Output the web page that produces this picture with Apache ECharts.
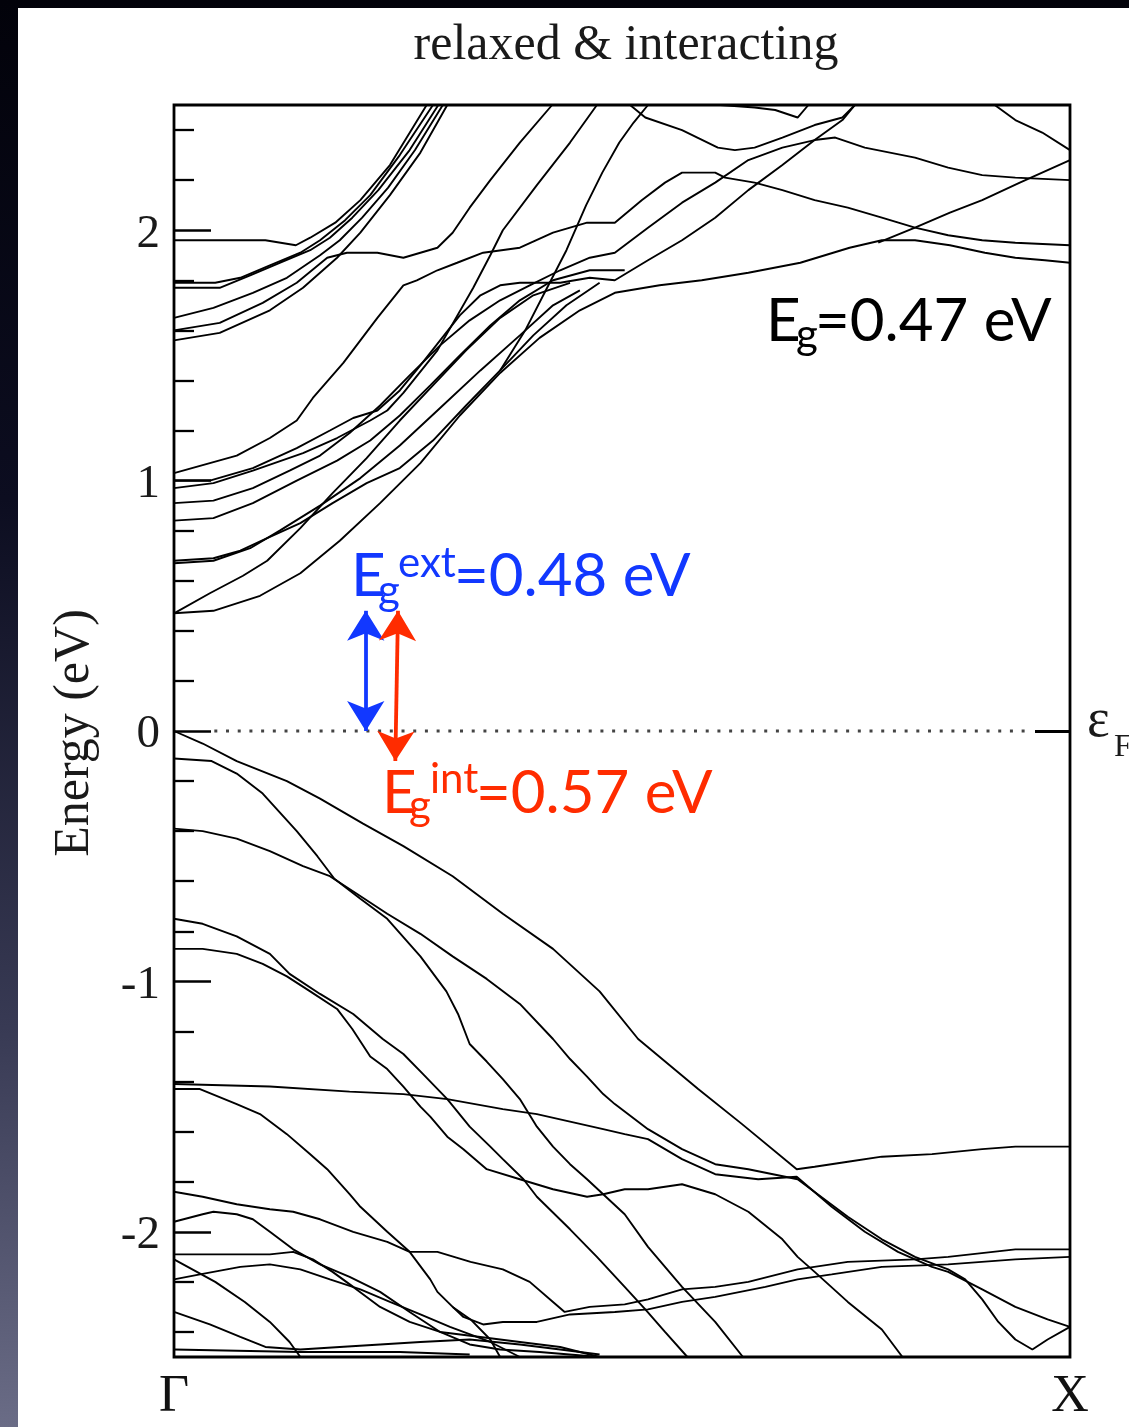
<!DOCTYPE html>
<html>
<head>
<meta charset="utf-8">
<script src="https://cdn.jsdelivr.net/npm/echarts@6/dist/echarts.min.js"></script>
<style>
  html, body { margin: 0; padding: 0; width: 1129px; height: 1427px; overflow: hidden; }
  body { background: linear-gradient(180deg, #02020a 0%, #0c0d20 35%, #383a54 72%, #6a6c86 100%); }
  #panel { position: absolute; left: 18px; top: 8px; right: 0; bottom: 0; background: #fff; }
  #chart { position: absolute; left: 0; top: 0; width: 1129px; height: 1427px; }
</style>
</head>
<body>
<div id="panel"></div>
<div id="chart"></div>
<script>
// k: fraction of the path Gamma -> X, E: energy in eV (relative to the Fermi level)
const kLabels = ['Γ', 'X'];
const eMajor = [-2, -1, 0, 1, 2];
const eMinor = [-2.4, -2.2, -1.8, -1.6, -1.4, -1.2, -0.8, -0.6, -0.4, -0.2,
                0.2, 0.4, 0.6, 0.8, 1.2, 1.4, 1.6, 1.8, 2.2, 2.4];
const fermiLine = [[0.045, 0], [0.958, 0]];

// --- conduction bands ---
const cond1 = [[0,1.96],[.102,1.96],[.136,1.94],[.152,1.97],[.180,2.03],[.208,2.12],[.241,2.26],[.282,2.50]];
const cond2 = [[0,1.79],[.046,1.79],[.074,1.81],[.107,1.86],[.141,1.91],[.163,1.96],[.191,2.04],[.219,2.14],[.252,2.30],[.289,2.50]];
const cond3 = [[0,1.77],[.051,1.77],[.085,1.82],[.118,1.87],[.152,1.92],[.174,1.97],[.199,2.05],[.228,2.16],[.263,2.32],[.295,2.50]];
const cond4 = [[0,1.65],[.044,1.69],[.088,1.75],[.126,1.81],[.163,1.90],[.185,1.96],[.210,2.05],[.239,2.17],[.269,2.32],[.300,2.50]];
const cond5 = [[0,1.60],[.051,1.63],[.099,1.71],[.137,1.79],[.171,1.89],[.193,1.91],[.227,1.91],[.256,1.89],[.275,1.91],[.294,1.93],[.311,1.99],[.330,2.09],[.353,2.20],[.386,2.35],[.422,2.50]];
const cond6 = [[0,1.56],[.051,1.59],[.107,1.68],[.144,1.77],[.182,1.89],[.208,1.99],[.241,2.14],[.275,2.31],[.305,2.50]];
const cond7 = [[0,1.03],[.070,1.10],[.107,1.17],[.137,1.24],[.155,1.33],[.189,1.47],[.208,1.56],[.227,1.65],[.256,1.78],[.271,1.80],[.294,1.84],[.316,1.87],[.345,1.91],[.386,1.93],[.423,1.99],[.461,2.03],[.492,2.03],[.522,2.12],[.548,2.19],[.567,2.23],[.604,2.23],[.615,2.21],[.648,2.19],[.679,2.16],[.715,2.12],[.752,2.09],[.790,2.05],[.827,2.01],[.864,1.98],[.902,1.96],[.939,1.95],[1,1.94]];
const cond8 = [[0,1.00],[.040,1.00],[.088,1.05],[.137,1.13],[.174,1.20],[.200,1.25],[.227,1.28],[.252,1.36],[.275,1.46],[.297,1.56],[.319,1.66],[.342,1.74],[.364,1.78],[.386,1.79],[.431,1.79],[.464,1.81],[.492,1.80],[.529,1.88],[.567,1.96],[.604,2.05],[.641,2.16],[.679,2.26],[.715,2.36],[.746,2.44],[.760,2.50]];
const cond9 = [[0,.97],[.044,.99],[.088,1.04],[.144,1.11],[.182,1.17],[.219,1.24],[.238,1.28],[.256,1.35],[.294,1.52],[.334,1.77],[.353,1.90],[.367,2.00],[.405,2.18],[.442,2.35],[.472,2.50]];
const cond10 = [[0,.91],[.044,.92],[.088,.97],[.129,1.04],[.163,1.10],[.196,1.19],[.230,1.30],[.263,1.42],[.297,1.54],[.330,1.64],[.364,1.72],[.397,1.78],[.431,1.84],[.464,1.89],[.492,1.91],[.529,2.01],[.567,2.11],[.604,2.19],[.641,2.28],[.679,2.33],[.715,2.36],[.738,2.37],[.771,2.33],[.827,2.29],[.864,2.25],[.902,2.22],[.939,2.21],[1,2.20]];
const cond11 = [[0,.84],[.044,.85],[.088,.91],[.137,1.00],[.182,1.08],[.219,1.16],[.252,1.26],[.286,1.38],[.319,1.50],[.353,1.62],[.386,1.72],[.423,1.80],[.464,1.84],[.503,1.84]];
const cond12 = [[0,.68],[.044,.69],[.074,.72],[.104,.77],[.141,.83],[.177,.91],[.215,.99],[.252,1.05],[.289,1.16],[.326,1.30],[.364,1.44],[.401,1.58],[.438,1.70],[.475,1.79]];
const cond13 = [[0,.67],[.044,.68],[.085,.73],[.118,.80],[.163,.90],[.208,1.01],[.252,1.14],[.297,1.29],[.342,1.44],[.386,1.58],[.423,1.70],[.453,1.76]];
const cond14 = [[0,.47],[.040,.55],[.077,.62],[.104,.68],[.141,.81],[.177,.95],[.215,1.09],[.252,1.24],[.289,1.38],[.326,1.52],[.364,1.65],[.401,1.74],[.442,1.79]];
const cond15 = [[0,.47],[.044,.48],[.096,.54],[.141,.63],[.185,.76],[.230,.91],[.275,1.07],[.319,1.26],[.364,1.43],[.408,1.57],[.453,1.68],[.492,1.75],[.542,1.78],[.589,1.80],[.641,1.83],[.699,1.87],[.754,1.93],[.790,1.96],[.827,1.96],[.866,1.94],[.905,1.91],[.939,1.89],[.972,1.88],[1,1.87]];
const cond16 = [[.786,1.95],[.827,2.01],[.866,2.07],[.902,2.12],[.944,2.19],[1,2.28]];
const cond17 = [[.509,2.50],[.526,2.45],[.567,2.40],[.607,2.33],[.626,2.32],[.648,2.33],[.679,2.37],[.715,2.42],[.746,2.45],[.760,2.50]];
const cond18 = [[.610,2.50],[.648,2.49],[.671,2.48],[.696,2.45],[.708,2.50]];
const cond19 = [[.916,2.50],[.939,2.44],[.969,2.39],[1,2.32]];
const cond20 = [[.364,1.44],[.392,1.60],[.415,1.76],[.438,1.92],[.460,2.10],[.478,2.23],[.497,2.35],[.513,2.43],[.529,2.50]];

// --- valence bands ---
const val1 = [[0,0],[.032,-.05],[.070,-.12],[.126,-.20],[.163,-.27],[.211,-.37],[.256,-.46],[.311,-.58],[.367,-.73],[.423,-.87],[.475,-1.04],[.518,-1.23],[.585,-1.43],[.634,-1.57],[.695,-1.75],[.715,-1.74],[.752,-1.72],[.790,-1.70],[.846,-1.69],[.902,-1.67],[.939,-1.66],[1,-1.66]];
const val2 = [[0,-.11],[.042,-.12],[.070,-.17],[.099,-.25],[.137,-.40],[.160,-.50],[.179,-.59],[.208,-.67],[.238,-.75],[.275,-.90],[.304,-1.04],[.317,-1.13],[.330,-1.25],[.349,-1.32],[.367,-1.39],[.386,-1.47],[.405,-1.58],[.423,-1.66],[.442,-1.73],[.461,-1.79],[.479,-1.85],[.503,-1.93],[.529,-2.06],[.567,-2.22],[.604,-2.36],[.635,-2.50]];
const val3 = [[0,-.39],[.032,-.40],[.070,-.43],[.107,-.48],[.144,-.54],[.174,-.58],[.204,-.65],[.238,-.73],[.275,-.81],[.311,-.90],[.349,-.99],[.386,-1.09],[.423,-1.23],[.442,-1.31],[.461,-1.38],[.479,-1.45],[.492,-1.49],[.529,-1.59],[.567,-1.67],[.604,-1.73],[.641,-1.75],[.696,-1.79],[.752,-1.94],[.790,-2.03],[.827,-2.10],[.864,-2.15],[.883,-2.19],[.902,-2.27],[.920,-2.36],[.939,-2.43],[.958,-2.47],[.975,-2.43],[1,-2.38]];
const val4 = [[0,-.75],[.032,-.77],[.070,-.82],[.107,-.89],[.129,-.97],[.163,-1.05],[.200,-1.13],[.233,-1.23],[.256,-1.29],[.278,-1.37],[.305,-1.47],[.330,-1.58],[.353,-1.66],[.367,-1.71],[.390,-1.79],[.405,-1.86],[.442,-1.99],[.472,-2.10],[.503,-2.22],[.526,-2.31],[.548,-2.40],[.573,-2.50]];
const val5 = [[0,-.87],[.032,-.87],[.070,-.89],[.099,-.93],[.126,-.98],[.152,-1.04],[.182,-1.11],[.199,-1.19],[.219,-1.30],[.238,-1.35],[.256,-1.42],[.275,-1.50],[.286,-1.54],[.305,-1.62],[.323,-1.67],[.349,-1.75],[.386,-1.79],[.423,-1.83],[.461,-1.86],[.479,-1.85],[.503,-1.83],[.529,-1.83],[.567,-1.81],[.604,-1.85],[.641,-1.92],[.679,-2.03],[.696,-2.10],[.715,-2.16],[.752,-2.28],[.790,-2.39],[.813,-2.50]];
const val6 = [[0,-1.41],[.107,-1.42],[.196,-1.44],[.256,-1.45],[.305,-1.47],[.367,-1.51],[.405,-1.53],[.442,-1.56],[.479,-1.59],[.503,-1.61],[.529,-1.63],[.548,-1.67],[.567,-1.71],[.604,-1.77],[.652,-1.79],[.695,-1.78],[.734,-1.90],[.771,-2.00],[.808,-2.08],[.846,-2.14],[.864,-2.16],[.902,-2.23],[.939,-2.30],[.975,-2.35],[1,-2.38]];
const val7 = [[0,-1.43],[.029,-1.43],[.070,-1.49],[.096,-1.53],[.126,-1.61],[.152,-1.69],[.171,-1.75],[.196,-1.85],[.208,-1.90],[.238,-2.00],[.263,-2.08],[.286,-2.19],[.294,-2.24],[.311,-2.30],[.323,-2.34],[.345,-2.37],[.367,-2.36],[.405,-2.36],[.442,-2.33],[.492,-2.32],[.529,-2.31],[.567,-2.28],[.604,-2.26],[.660,-2.22],[.696,-2.19],[.734,-2.17],[.790,-2.14],[.864,-2.13],[.939,-2.11],[1,-2.10]];
const val8 = [[.311,-2.30],[.331,-2.35],[.353,-2.43],[.364,-2.50]];
const val9 = [[0,-1.84],[.032,-1.86],[.070,-1.89],[.107,-1.91],[.133,-1.92],[.163,-1.95],[.200,-2.00],[.238,-2.04],[.263,-2.08],[.294,-2.08],[.331,-2.12],[.367,-2.15],[.397,-2.20],[.423,-2.28],[.436,-2.32],[.464,-2.30],[.503,-2.29],[.529,-2.27],[.567,-2.23],[.604,-2.22],[.641,-2.20],[.696,-2.15],[.752,-2.12],[.827,-2.11],[.864,-2.10],[.939,-2.07],[1,-2.07]];
const val10 = [[0,-1.96],[.032,-1.93],[.044,-1.92],[.070,-1.93],[.088,-1.95],[.107,-2.00],[.133,-2.07],[.163,-2.13],[.196,-2.18],[.230,-2.24],[.263,-2.32],[.297,-2.40],[.330,-2.45],[.364,-2.47],[.408,-2.48],[.475,-2.50]];
const val11 = [[0,-2.09],[.107,-2.09],[.133,-2.08],[.155,-2.11],[.177,-2.16],[.200,-2.22],[.230,-2.30],[.263,-2.36],[.297,-2.40],[.342,-2.42],[.386,-2.44],[.431,-2.46],[.475,-2.50]];
const val12 = [[0,-2.19],[.029,-2.17],[.074,-2.14],[.107,-2.13],[.141,-2.15],[.174,-2.19],[.208,-2.23],[.241,-2.28],[.275,-2.33],[.308,-2.38],[.353,-2.44],[.386,-2.50]];
const val13 = [[0,-2.11],[.046,-2.20],[.079,-2.28],[.107,-2.36],[.129,-2.44],[.141,-2.50]];
const val14 = [[0,-2.32],[.040,-2.37],[.074,-2.42],[.102,-2.46],[.141,-2.47],[.185,-2.46],[.230,-2.45],[.275,-2.44],[.330,-2.43],[.386,-2.45],[.431,-2.47],[.475,-2.49]];
const val15 = [[0,-2.47],[.141,-2.48],[.252,-2.48],[.330,-2.49]];

const bands = [cond1, cond2, cond3, cond4, cond5, cond6, cond7, cond8, cond9, cond10,
  cond11, cond12, cond13, cond14, cond15, cond16, cond17, cond18, cond19, cond20,
  val1, val2, val3, val4, val5, val6, val7, val8, val9, val10, val11, val12, val13, val14, val15];

// gap arrows, [k, E] at both ends
const extArrow = [[0.214, 0.48], [0.214, 0.0]];
const intArrow = [[0.250, 0.48], [0.247, -0.12]];

const serif = '"Liberation Serif", "DejaVu Serif", serif';
const sans = 'Lato, "Open Sans", sans-serif';
const blue = '#1238ff';
const red = '#ff2c00';

const chart = echarts.init(document.getElementById('chart'), null, { renderer: 'canvas' });

const series = bands.map(b => ({
  type: 'line', data: b, showSymbol: false, silent: true, z: 3,
  lineStyle: { color: '#000', width: 1.9 }
}));

series.push({
  type: 'line', data: fermiLine, showSymbol: false, silent: true, z: 2,
  lineStyle: { color: '#444', width: 3, type: [3, 8.7] }
});

function arrowLine(pts, color) {
  return {
    type: 'line', data: [], silent: true, z: 5,
    markLine: {
      silent: true, symbol: ['arrow', 'arrow'], symbolSize: [28, 30], precision: 3,
      label: { show: false },
      lineStyle: { color: color, width: 3.8, type: 'solid' },
      data: [[{ coord: pts[0] }, { coord: pts[1] }]]
    }
  };
}
series.push(arrowLine(extArrow, blue));
series.push(arrowLine(intArrow, red));

function txt(x, y, text, size, color, family, align) {
  return {
    type: 'text', x: x, y: y, silent: true, z: 10,
    style: { text: text, fontSize: size, fontFamily: family, fill: color,
             align: align || 'left', verticalAlign: 'middle' }
  };
}

const option = {
  animation: false,
  backgroundColor: 'transparent',
  grid: { left: 174, right: 59, top: 105, bottom: 70, show: true,
          borderColor: '#000', borderWidth: 2.8, backgroundColor: 'transparent' },
  xAxis: {
    type: 'value', min: 0, max: 1,
    axisLine: { show: false }, axisTick: { show: false }, splitLine: { show: false },
    axisLabel: {
      customValues: [0, 1], showMinLabel: true, showMaxLabel: true,
      formatter: v => (v === 0 ? kLabels[0] : kLabels[1]),
      fontFamily: serif, fontSize: 52, color: '#111', margin: 14
    }
  },
  yAxis: [
    {
      type: 'value', min: -2.5, max: 2.5, position: 'left',
      axisLine: { show: false }, splitLine: { show: false },
      axisTick: { show: true, inside: true, length: 37, customValues: eMajor,
                  lineStyle: { color: '#000', width: 2.6 } },
      axisLabel: { customValues: eMajor, formatter: v => String(v),
                   fontFamily: serif, fontSize: 47, color: '#1a1a1a', margin: 14,
                   verticalAlign: 'top', lineHeight: 8 }
    },
    {
      type: 'value', min: -2.5, max: 2.5, position: 'left',
      axisLine: { show: false }, splitLine: { show: false }, axisLabel: { show: false },
      axisTick: { show: true, inside: true, length: 20, customValues: eMinor,
                  lineStyle: { color: '#000', width: 2.3 } }
    },
    {
      type: 'value', min: -2.5, max: 2.5, position: 'right',
      axisLine: { show: false }, splitLine: { show: false }, axisLabel: { show: false },
      axisTick: { show: true, inside: true, length: 35, customValues: [0],
                  lineStyle: { color: '#000', width: 3 } }
    }
  ],
  series: series,
  graphic: [
    txt(626, 46, 'relaxed & interacting', 50, '#1a1a1a', serif, 'center'),
    { type: 'text', x: 75, y: 733, rotation: Math.PI / 2, silent: true,
      style: { text: 'Energy (eV)', fontSize: 50, fontFamily: serif, fill: '#1a1a1a',
               align: 'center', verticalAlign: 'middle' } },
    txt(1087, 722, 'ε', 54, '#1a1a1a', serif),
    txt(1114, 748, 'F', 32, '#1a1a1a', serif),
    // Eg = 0.47 eV
    txt(766, 322, 'E', 60, '#000', sans),
    txt(796, 335, 'g', 42, '#000', sans),
    txt(815, 322, '=0.47 eV', 60, '#000', sans),
    // Eg ext
    txt(351, 577, 'E', 60, blue, sans),
    txt(378, 591, 'g', 42, blue, sans),
    txt(398, 563, 'ext', 42, blue, sans),
    txt(454, 577, '=0.48 eV', 60, blue, sans),
    // Eg int
    txt(382, 794, 'E', 60, red, sans),
    txt(409, 806, 'g', 42, red, sans),
    txt(430, 779, 'int', 42, red, sans),
    txt(476, 794, '=0.57 eV', 60, red, sans)
  ]
};

chart.setOption(option);
</script>
</body>
</html>
